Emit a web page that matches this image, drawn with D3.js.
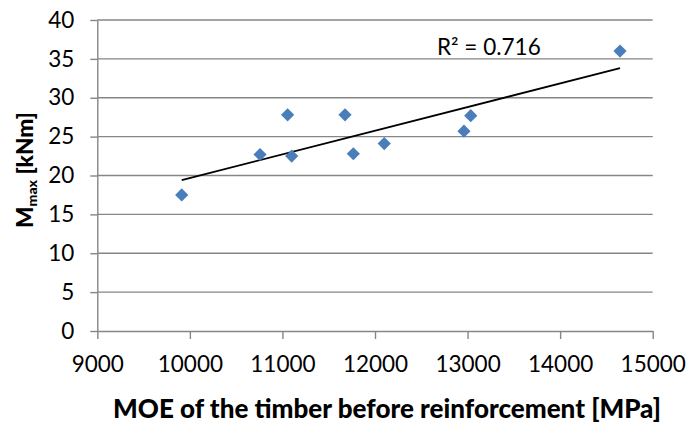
<!DOCTYPE html>
<html>
<head>
<meta charset="utf-8">
<script src="https://cdn.jsdelivr.net/npm/d3@7"></script>
<style>
  html, body { margin: 0; padding: 0; background: #fff; }
  svg { display: block; }
  text { font-family: Lato, "Open Sans", sans-serif; fill: #000; }
</style>
</head>
<body>
<svg id="chart" width="689" height="426"></svg>
<script>
// MOE of each beam before reinforcement [MPa]
const moe = [9912, 10758, 11056, 11100, 11676, 11766, 12100, 12961, 13034, 14647];
// Maximum bending moment at failure [kNm]
const mMax = [17.5, 22.7, 27.8, 22.5, 27.8, 22.8, 24.1, 25.7, 27.7, 36.0];
const xTicks = [9000, 10000, 11000, 12000, 13000, 14000, 15000];
const yTicks = [0, 5, 10, 15, 20, 25, 30, 35, 40];
const rSquaredLabel = "R² = 0.716";
const xTitle = "MOE of the timber before reinforcement [MPa]";

const svg = d3.select("#chart");
const x = d3.scaleLinear().domain([9000, 15000]).range([97.3, 652.7]);
const y = d3.scaleLinear().domain([0, 40]).range([331, 20]);
const axisColor = "#868686";

// horizontal gridlines
svg.append("g").selectAll("line").data(yTicks.filter(v => v > 0)).join("line")
  .attr("x1", x(9000)).attr("x2", x(15000))
  .attr("y1", d => y(d)).attr("y2", d => y(d))
  .attr("stroke", axisColor).attr("stroke-width", 1.4);

// y axis
const yAxis = svg.append("g").attr("transform", `translate(${x(9000)},0)`)
  .call(d3.axisLeft(y).tickValues(yTicks).tickSize(7).tickPadding(16).tickSizeOuter(0));
// x axis
const xAxis = svg.append("g").attr("transform", `translate(0,${y(0)})`)
  .call(d3.axisBottom(x).tickValues(xTicks).tickFormat(d3.format("d")).tickSize(8).tickPadding(17).tickSizeOuter(0));

[yAxis, xAxis].forEach(g => {
  g.select(".domain").attr("stroke", axisColor).attr("stroke-width", 1.4);
  g.selectAll(".tick line").attr("stroke", axisColor).attr("stroke-width", 1.4);
  g.selectAll(".tick text").attr("font-family", "Lato, sans-serif").attr("font-size", 22.5).attr("fill", "#000");
});
xAxis.selectAll(".tick text").attr("dy", "0.71em");

// linear trendline (least squares)
const n = moe.length;
const mx = d3.mean(moe), my = d3.mean(mMax);
let sxy = 0, sxx = 0;
for (let i = 0; i < n; i++) { sxy += (moe[i] - mx) * (mMax[i] - my); sxx += (moe[i] - mx) ** 2; }
const slope = sxy / sxx, intercept = my - slope * mx;
const [xMin, xMax] = d3.extent(moe);
svg.append("line")
  .attr("x1", x(xMin)).attr("y1", y(intercept + slope * xMin))
  .attr("x2", x(xMax)).attr("y2", y(intercept + slope * xMax))
  .attr("stroke", "#000").attr("stroke-width", 1.8);

// data markers (diamonds)
const r = 6.6;
svg.append("g").selectAll("path").data(moe.map((v, i) => [v, mMax[i]])).join("path")
  .attr("transform", d => `translate(${x(d[0])},${y(d[1])})`)
  .attr("d", `M0,${-r}L${r},0L0,${r}L${-r},0Z`)
  .attr("fill", "#4A7EBB");

// R² label
svg.append("text").attr("x", 437).attr("y", 55)
  .attr("font-size", 22.5).text(rSquaredLabel);

// scale a title's font so that it spans the wanted length
function fitText(sel, base, target) {
  const w = sel.node().getComputedTextLength();
  sel.attr("font-size", base * target / w);
}

// axis titles
const xt = svg.append("text").attr("x", 387).attr("y", 418).attr("text-anchor", "middle")
  .attr("font-family", "Lato, sans-serif")
  .attr("font-size", 22).attr("font-weight", 900)
  .text(xTitle);
fitText(xt, 22, 548);

const yTitle = svg.append("text")
  .attr("transform", "translate(33,170) rotate(-90)")
  .attr("font-family", "Lato, sans-serif")
  .attr("text-anchor", "middle").attr("font-size", 22).attr("font-weight", 900);
yTitle.append("tspan").text("M");
yTitle.append("tspan").attr("font-size", "0.62em").attr("dy", 4).text("max");
yTitle.append("tspan").attr("dy", -4).text(" [kNm]");
fitText(yTitle, 22, 116);
</script>
</body>
</html>
